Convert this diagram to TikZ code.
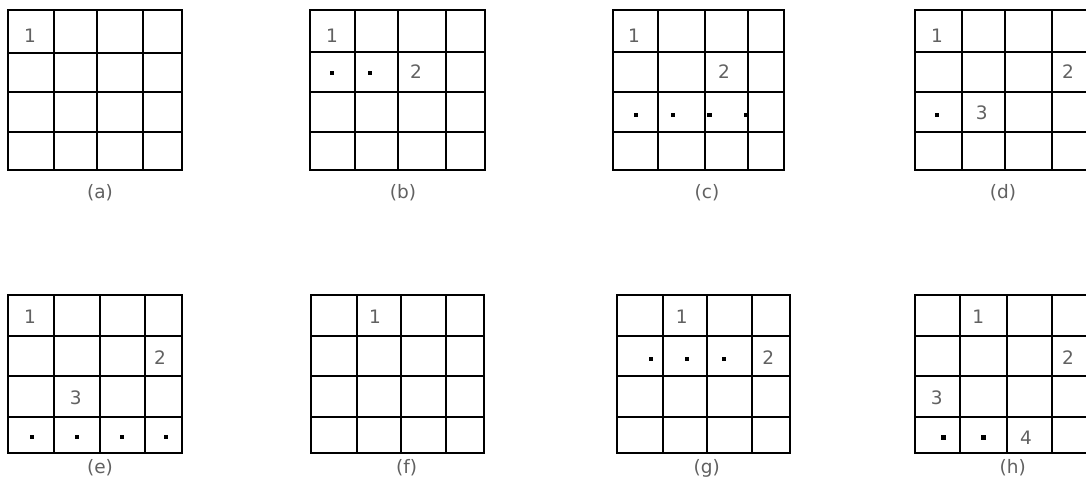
\documentclass[tikz,border=0pt]{standalone}
\usepackage{fontspec}
\setmainfont{DejaVu Sans}
\begin{document}
\begin{tikzpicture}[x=1pt,y=-1pt,
  gridline/.style={line width=2.3pt,line cap=rect,black},
  num/.style={inner sep=0pt,font=\fontsize{18.5}{18.5}\selectfont,text=black!62},
  sublabel/.style={inner sep=0pt,font=\fontsize{18.5}{18.5}\selectfont,text=black!62},
  dotmark/.style={fill=black,inner sep=0pt,minimum size=4.4pt,draw=none,rectangle}]
\useasboundingbox (0,0) rectangle (1086,489);
\clip (0,0) rectangle (1086,489);
\foreach \xs/\ys in {
  {8,54,97,143,182}/{10,53,92,132,170},
  {310,355,398,446,485}/{10,52,92,132,170},
  {613,658,705,748,784}/{10,52,92,132,170},
  {915,962,1005,1052,1091}/{10,52,92,132,170},
  {8,54,100,145,182}/{295,336,376,417,453},
  {311,357,401,446,484}/{295,336,376,417,453},
  {617,663,707,752,790}/{295,336,376,417,453},
  {915,960,1007,1052,1091}/{295,336,376,417,453}}{
  \edef\xlist{\xs}\edef\ylist{\ys}
  \foreach \x [count=\i] in \xlist { \ifnum\i=1 \xdef\xa{\x}\fi \ifnum\i=5 \xdef\xb{\x}\fi }
  \foreach \y [count=\i] in \ylist { \ifnum\i=1 \xdef\ya{\y}\fi \ifnum\i=5 \xdef\yb{\y}\fi }
  \foreach \x in \xlist { \draw[gridline] (\x,\ya) -- (\x,\yb); }
  \foreach \y in \ylist { \draw[gridline] (\xa,\y) -- (\xb,\y); }
}
% (a)
\node[num] (a1) at (30,36) {1};
\node[sublabel] (alab) at (100,193) {(a)};
% (b)
\node[num] (b1) at (332,36) {1};
\node[dotmark] (bd1) at (332,73) {};
\node[dotmark] (bd2) at (370,73) {};
\node[num] (b2) at (416,72) {2};
\node[sublabel] (blab) at (403,193) {(b)};
% (c)
\node[num] (c1) at (634,36) {1};
\node[num] (c2) at (724,72) {2};
\node[dotmark] (cd1) at (635.7,115) {};
\node[dotmark] (cd2) at (672.7,115) {};
\node[dotmark] (cd3) at (709.3,115) {};
\node[dotmark] (cd4) at (745.7,115) {};
\node[sublabel] (clab) at (707,193) {(c)};
% (d)
\node[num] (d1) at (937,36) {1};
\node[num] (d2) at (1068,72) {2};
\node[dotmark] (dd1) at (937,115) {};
\node[num] (d3) at (981.7,113) {3};
\node[sublabel] (dlab) at (1003,193) {(d)};
% (e)
\node[num] (e1) at (30,317) {1};
\node[num] (e2) at (160,358) {2};
\node[num] (e3) at (75.7,398) {3};
\node[dotmark] (ed1) at (31.7,437) {};
\node[dotmark] (ed2) at (76.7,437) {};
\node[dotmark] (ed3) at (122,437) {};
\node[dotmark] (ed4) at (165.7,437) {};
\node[sublabel] (elab) at (100,468) {(e)};
% (f)
\node[num] (f1) at (375,317) {1};
\node[sublabel] (flab) at (406.7,468) {(f)};
% (g)
\node[num] (g1) at (681.7,317) {1};
\node[dotmark] (gd1) at (650.7,358.7) {};
\node[dotmark] (gd2) at (686.7,358.7) {};
\node[dotmark] (gd3) at (724,358.7) {};
\node[num] (g2) at (768.3,358) {2};
\node[sublabel] (glab) at (706.7,468) {(g)};
% (h)
\node[num] (h1) at (978.3,317) {1};
\node[num] (h2) at (1068,358) {2};
\node[num] (h3) at (936.7,398) {3};
\node[dotmark] (hd1) at (943.5,437.5) {};
\node[dotmark] (hd2) at (983.5,437.5) {};
\node[num] (h4) at (1026,438) {4};
\node[sublabel] (hlab) at (1012.7,468) {(h)};
\end{tikzpicture}
\end{document}
